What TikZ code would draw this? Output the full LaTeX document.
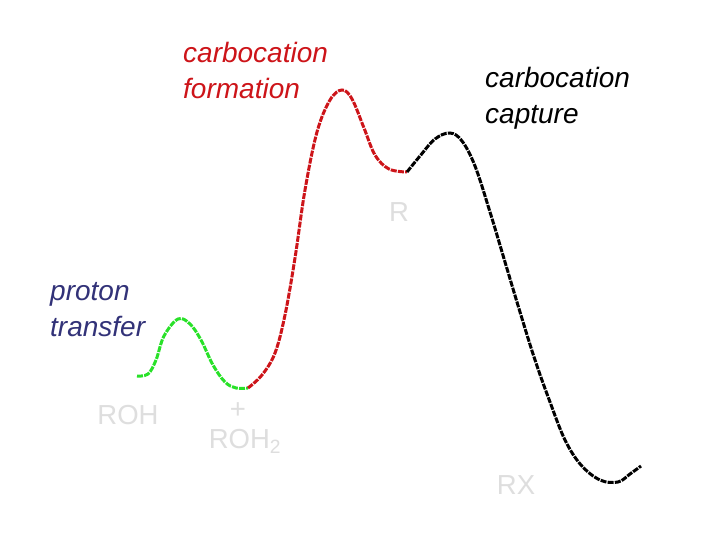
\documentclass[tikz,border=0pt]{standalone}
\usepackage{fontspec}
\setmainfont{Liberation Sans}
\begin{document}
\begin{tikzpicture}[x=1pt,y=-1pt,
  curve/.style={line width=3pt,dash pattern=on 6pt off 1.2pt,line cap=butt},
  lab/.style={anchor=west,align=left,font=\fontsize{28}{36}\selectfont\itshape,inner sep=0pt},
  spec/.style={font=\fontsize{27.5}{28}\selectfont,text=black!13,inner sep=0pt}]
\definecolor{cred}{RGB}{205,20,25}
\definecolor{cgreen}{RGB}{40,225,40}
\definecolor{cblue}{RGB}{50,50,120}
\useasboundingbox (0,0) rectangle (720,540);
\fill[white] (0,0) rectangle (720,540);
% curve
\draw[curve,cgreen] plot[smooth,tension=0.6] coordinates {(137,376) (148,374) (156,360) (164,336) (178,319) (190,324) (201,340) (213,365) (225,382) (236,388) (248,388)};
\draw[curve,cred] plot[smooth,tension=0.6] coordinates {(248,388) (262,375) (275,353) (285,315) (295,258) (305,190) (317,132) (330,100) (342,90) (352,99) (364,128) (375,155) (389,169) (407,172)};
\draw[curve,black] plot[smooth,tension=0.6] coordinates {(407,172) (420,156) (435,139) (450,133) (462,141) (475,166) (490,212) (505,262) (520,312) (535,360) (550,402) (565,440) (581,465) (600,480) (618,482) (630,474) (641,466)};
% labels
\node[lab,text=cred] (cf) at (183,70) {carbocation\\formation};
\node[lab,text=black] (cc) at (485,98) {carbocation\\capture};
\node[lab,text=cblue] (pt) at (50,310) {proton\\transfer};
% species
\node[spec] (roh) at (128,415) {ROH};
\node[spec] (plus) at (238,411) {+};
\node[spec] (roh2) at (245,441) {ROH\textsubscript{2}};
\node[spec] (r) at (399,212) {R};
\node[spec] (rx) at (516,485) {RX};
\end{tikzpicture}
\end{document}
